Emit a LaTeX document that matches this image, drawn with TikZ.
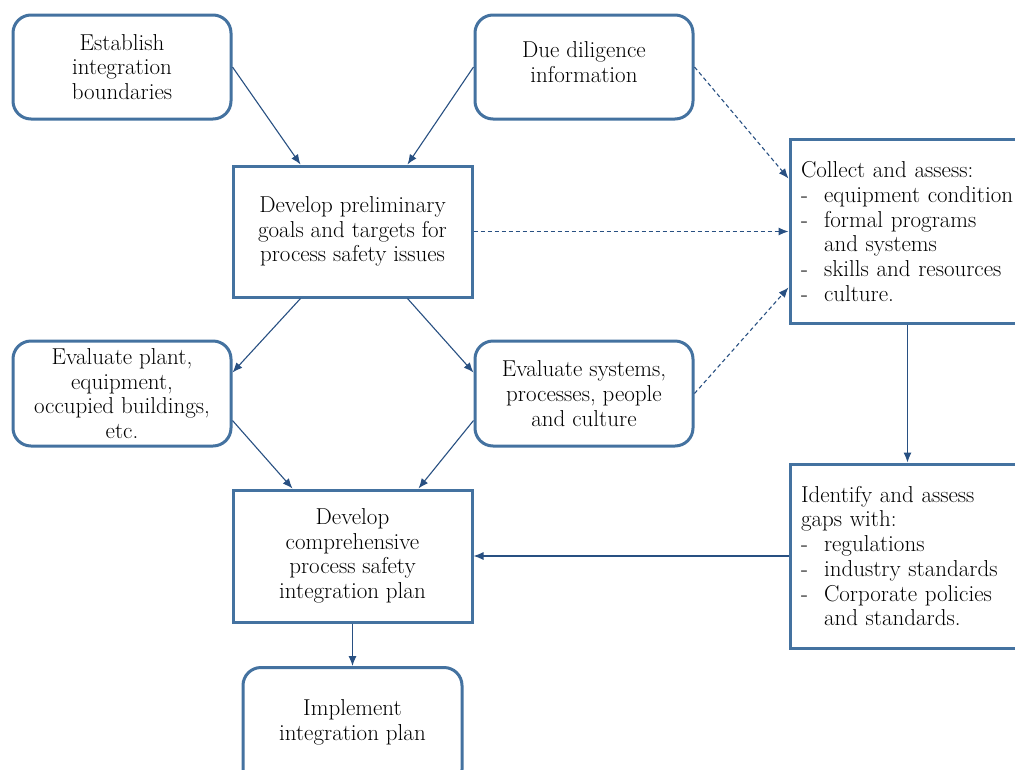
\documentclass[tikz,border=0pt]{standalone}
\usetikzlibrary{arrows.meta}
\definecolor{boxblue}{RGB}{68,114,160}
\definecolor{arrblue}{RGB}{40,80,130}
\begin{document}
\begin{tikzpicture}[x=1pt,y=-1pt,
  base/.style={draw=boxblue,line width=3pt,align=center,inner sep=2pt,
    font=\fontsize{23}{24.7}\selectfont,fill=white},
  rbox/.style={base,rounded corners=18pt},
  sbox/.style={base},
  lbox/.style={base,align=left,text width=236pt,inner xsep=11pt,anchor=west},
  arr/.style={draw=arrblue,line width=1.1pt,-{Latex[length=10pt,width=8pt]}},
  darr/.style={arr,dash pattern=on 4pt off 3pt}]
\clip (0,0) rectangle (1015,769);
\useasboundingbox (0,0) rectangle (1015,769);
\fill[white] (0,0) rectangle (1015,769);
\newcommand\dsh{\makebox[23pt][l]{-}}
\node[rbox,minimum width=218pt,minimum height=104pt] (est) at (122,67) {Establish\\integration\\boundaries};
\node[rbox,minimum width=218pt,minimum height=104pt] (dd) at (584,67) {\\[-18pt]Due diligence\\information};
\node[sbox,minimum width=239pt,minimum height=131pt] (dp) at (352.5,231.5) {Develop preliminary\\goals and targets for\\process safety issues};
\node[rbox,minimum width=218pt,minimum height=105pt] (ep) at (122,393.5) {Evaluate plant,\\equipment,\\occupied buildings,\\etc.};
\node[rbox,minimum width=218pt,minimum height=105pt] (es) at (584,393.5) {Evaluate systems,\\processes, people\\and culture};
\node[sbox,minimum width=239pt,minimum height=132pt] (dc) at (352.5,556) {Develop\\comprehensive\\process safety\\integration plan};
\node[rbox,minimum width=219pt,minimum height=120pt,anchor=north] (im) at (352.5,666) {Implement\\integration plan\\[-10pt]};
\node[lbox,minimum height=184pt] (col) at (788.5,231.5) {Collect and assess:\\\dsh equipment condition\\\dsh formal programs\\\hspace*{23pt}and systems\\\dsh skills and resources\\\dsh culture.};
\node[lbox,minimum height=184pt] (id) at (788.5,556) {Identify and assess\\gaps with:\\\dsh regulations\\\dsh industry standards\\\dsh Corporate policies\\\hspace*{23pt}and standards.};
\draw[arr] (est.east) -- ([xshift=-52pt]dp.north);
\draw[arr] (dd.west) -- ([xshift=55pt]dp.north);
\draw[darr] (dd.east) -- ([yshift=53pt]col.west);
\draw[darr] (dp.east) -- (col.west);
\draw[darr] (es.east) -- ([yshift=-56pt]col.west);
\draw[arr] ([xshift=-52pt]dp.south) -- ([yshift=21pt]ep.east);
\draw[arr] ([xshift=55pt]dp.south) -- ([yshift=21pt]es.west);
\draw[arr] ([yshift=-27pt]ep.east) -- ([xshift=-60pt]dc.north);
\draw[arr] ([yshift=-27pt]es.west) -- ([xshift=66pt]dc.north);
\draw[arr] ([xshift=119pt]col.south west) -- ([xshift=119pt]id.north west);
\draw[arr] (id.west) -- (dc.east);
\draw[arr] (dc.south) -- (im.north);
\end{tikzpicture}
\end{document}
